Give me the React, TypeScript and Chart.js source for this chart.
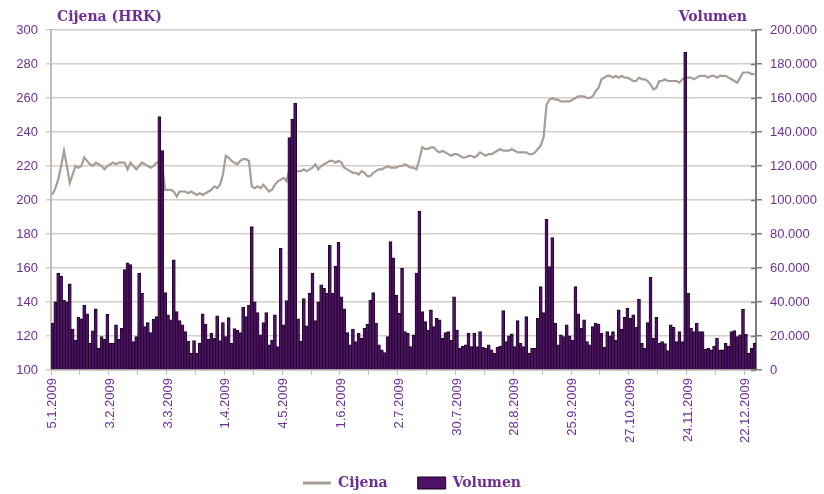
import React, { useEffect, useRef } from "react";
import { Chart, registerables } from "chart.js";

Chart.register(...registerables);

// Tick labels shown every 20 trading days
const tickLabels = [
  "5.1.2009", "3.2.2009", "3.3.2009", "1.4.2009", "4.5.2009", "1.6.2009", "2.7.2009",
  "30.7.2009", "28.8.2009", "25.9.2009", "27.10.2009", "24.11.2009", "22.12.2009",
];

// Price (HRK), one value per trading day
const prices = [
  203, 207, 212, 220, 229, 220, 210, 215, 220, 219, 220, 225, 223, 221, 220, 222, 221, 220, 218, 220,
  221, 222, 221, 222, 222, 222, 218, 222, 220, 218, 220, 222, 221, 220, 219, 220, 222, 222, 221, 206,
  206, 206, 205, 202, 205, 205, 205, 204, 205, 204, 203, 204, 203, 204, 205, 206, 208, 207, 209, 215,
  226, 225, 223, 222, 221, 223, 224, 224, 223, 208, 207, 208, 207, 209, 207, 205, 206, 209, 211, 212,
  213, 211, 218, 217, 217, 217, 217, 218, 217, 218, 219, 221, 218, 220, 221, 222, 223, 223, 222, 223,
  222, 219, 218, 217, 216, 216, 215, 217, 216, 214, 214, 216, 217, 218, 218, 219, 220, 219, 219, 219,
  220, 220, 221, 220, 219, 219, 218, 224, 231, 230, 230, 231, 231, 229, 228, 229, 228, 227, 226, 227,
  227, 226, 225, 225, 226, 226, 225, 226, 228, 227, 226, 227, 227, 228, 229, 230, 229, 229, 229, 230,
  229, 228, 228, 228, 228, 227, 227, 228, 230, 232, 237, 256, 259, 260, 259, 259, 258, 258, 258, 258,
  259, 260, 261, 261, 261, 260, 260, 261, 264, 266, 271, 272, 273, 273, 272, 273, 272, 273, 272, 272,
  271, 270, 270, 272, 271, 271, 270, 268, 265, 266, 270, 270, 271, 270, 270, 270, 270, 269, 271, 272,
  272, 272, 271, 272, 273, 273, 273, 272, 273, 273, 272, 273, 273, 273, 272, 271, 270, 269, 272, 275,
  275, 275, 274, 274,
];

// Volume (shares), one value per trading day
const volumes = [
  27500, 40000, 57000, 55000, 41000, 40000, 50600, 24000, 17600, 31000,
  30000, 38000, 33000, 15700, 23000, 36000, 12700, 19600, 18000, 32700,
  15700, 15700, 26500, 18000, 24500, 59000, 63000, 62000, 16700, 19600,
  57000, 45000, 25500, 27800, 22000, 29800, 31400, 149000, 129000, 45500,
  32400, 29400, 64700, 34300, 29000, 26500, 22500, 17000, 9800, 17300,
  9800, 15700, 33000, 27000, 18000, 21600, 18600, 31800, 17300, 27800,
  19600, 30800, 15700, 24300, 23500, 22000, 36900, 31400, 38200, 84300,
  40000, 33700, 20600, 27800, 33700, 14700, 17600, 32400, 13700, 71600,
  26500, 40800, 136700, 147500, 156900, 30000, 17000, 42000, 26000, 45000,
  57000, 29000, 40000, 50000, 48000, 45000, 73500, 45000, 61000, 75000,
  43000, 36000, 22000, 14700, 24000, 16700, 21600, 18600, 24500, 27000,
  41000, 45500, 27500, 14700, 11800, 10200, 19600, 75500, 66000, 44000,
  33300, 59800, 22500, 21600, 13700, 20600, 57000, 93500, 34300, 28400,
  23500, 35300, 25500, 30400, 29400, 18600, 22000, 22500, 17600, 43000,
  23500, 12700, 14000, 14700, 21600, 13700, 21600, 13700, 22500, 13300,
  12700, 14700, 11800, 9800, 13300, 14000, 34900, 16700, 20000, 21200,
  13700, 29000, 15700, 13700, 31400, 9800, 12700, 12700, 30400, 49000,
  33700, 88600, 60800, 77800, 27500, 14700, 20600, 19600, 26500, 20000,
  17600, 49000, 33000, 24500, 29400, 16700, 14700, 25500, 27500, 27000,
  21600, 13300, 22500, 20000, 22500, 17600, 35300, 24000, 31000, 36300,
  30400, 32400, 25100, 41600, 15700, 12700, 27800, 54500, 18600, 31000,
  15700, 16700, 15500, 11400, 26500, 25000, 16700, 22500, 16700, 187000,
  45000, 24500, 22500, 27500, 22500, 22500, 12200, 12700, 11800, 14100,
  18600, 11800, 11800, 15700, 14100, 22500, 23100, 19600, 20600, 35700,
  21000, 9800, 12700, 15700,
];

const leftTitle = "Cijena (HRK)";
const rightTitle = "Volumen";
const priceLabel = "Cijena";
const volumeLabel = "Volumen";

const LABEL_EVERY = 20;
const categories = prices.map((_, i) =>
  i % LABEL_EVERY === 0 ? tickLabels[i / LABEL_EVERY] || "" : ""
);

const PURPLE = "#6e2e96";
const GRID = "#d5cdc7";
const AXIS_GREY = "#c2bab3";
const RIGHT_AXIS = "#7d7d7d";
const LINE = "#a79d96";
const BAR_FILL = "#4f1166";
const BAR_EDGE = "#16051b";
const TICK_FONT = { family: "'Liberation Sans', sans-serif", size: 13 };
const LEGEND_PAD = 30;

function formatThousands(v: number): string {
  return String(Math.round(v)).replace(/\B(?=(\d{3})+(?!\d))/g, ".");
}

const titlesPlugin = {
  id: "axisTitles",
  afterDraw(chart: any) {
    const { ctx, chartArea } = chart;
    ctx.save();
    ctx.font = "bold 14px 'DejaVu Serif', serif";
    ctx.fillStyle = PURPLE;
    ctx.textBaseline = "middle";
    ctx.textAlign = "left";
    ctx.fillText(leftTitle, chartArea.left + 6, 17);
    ctx.textAlign = "right";
    ctx.fillText(rightTitle, chartArea.right - 9, 17);
    // inner half of the right-axis tick marks (cross ticks)
    const s = chart.scales.y1;
    ctx.strokeStyle = RIGHT_AXIS;
    ctx.lineWidth = 1.5;
    s.ticks.forEach((t: any) => {
      const y = Math.round(s.getPixelForValue(t.value)) + 0.5;
      ctx.beginPath();
      ctx.moveTo(chartArea.right - 5, y);
      ctx.lineTo(chartArea.right, y);
      ctx.stroke();
    });
    ctx.restore();
  },
};

export default function App() {
  const canvasRef = useRef<HTMLCanvasElement | null>(null);

  useEffect(() => {
    if (!canvasRef.current) return;
    const chart = new Chart(canvasRef.current, {
      type: "bar",
      data: {
        labels: categories,
        datasets: [
          {
            type: "line",
            label: priceLabel,
            data: prices,
            yAxisID: "y",
            borderColor: LINE,
            backgroundColor: LINE,
            borderWidth: 2.2,
            pointRadius: 0,
            tension: 0,
            order: 2,
          } as any,
          {
            type: "bar",
            label: volumeLabel,
            data: volumes,
            yAxisID: "y1",
            backgroundColor: BAR_FILL,
            borderColor: BAR_EDGE,
            borderWidth: { top: 1, left: 0.8, right: 0.8, bottom: 0 },
            borderSkipped: false,
            inflateAmount: 0.4,
            barPercentage: 1,
            categoryPercentage: 1,
            order: 1,
          } as any,
        ],
      },
      options: {
        responsive: false,
        animation: false,
        devicePixelRatio: 1,
        layout: { padding: { top: 30, bottom: -6, left: 0, right: 0 } },
        plugins: {
          tooltip: { enabled: false },
          legend: {
            position: "bottom",
            labels: {
              usePointStyle: true,
              pointStyleWidth: 28,
              boxHeight: 12,
              padding: LEGEND_PAD,
              color: PURPLE,
              font: { family: "'DejaVu Serif', serif", size: 14, weight: "bold" },
              sort: (a: any, b: any) => a.datasetIndex - b.datasetIndex,
              generateLabels: (ch: any) => {
                const items = (Chart.defaults.plugins.legend.labels as any).generateLabels(ch);
                return items.map((it: any) =>
                  it.datasetIndex === 0
                    ? { ...it, pointStyle: "line", lineWidth: 3, strokeStyle: LINE, fontColor: PURPLE }
                    : { ...it, pointStyle: "rect", lineWidth: 1, fillStyle: BAR_FILL, strokeStyle: BAR_EDGE, fontColor: PURPLE }
                );
              },
            },
          },
        },
        scales: {
          x: {
            type: "category",
            offset: true,
            grid: {
              offset: true,
              drawOnChartArea: false,
              drawTicks: true,
              tickLength: 5,
              color: (c: any) => (c.index % 10 === 0 ? AXIS_GREY : "rgba(0,0,0,0)"),
            },
            border: { display: true, color: AXIS_GREY, width: 1.5 },
            ticks: {
              autoSkip: false,
              maxRotation: 90,
              minRotation: 90,
              padding: 3,
              color: PURPLE,
              font: TICK_FONT,
            },
            afterFit: (s: any) => {
              s.height = 106 - LEGEND_PAD;
            },
          },
          y: {
            type: "linear",
            position: "left",
            min: 100,
            max: 300,
            ticks: { stepSize: 20, color: PURPLE, font: TICK_FONT, padding: 8 },
            grid: { color: GRID, lineWidth: 1.5, tickLength: 5 },
            border: { display: true, color: AXIS_GREY, width: 2 },
            afterFit: (s: any) => {
              s.width = 51;
            },
          },
          y1: {
            type: "linear",
            position: "right",
            min: 0,
            max: 200000,
            ticks: {
              stepSize: 20000,
              color: PURPLE,
              font: TICK_FONT,
              padding: 8,
              callback: (v: any) => formatThousands(Number(v)),
            },
            grid: { drawOnChartArea: false, color: RIGHT_AXIS, tickLength: 6, lineWidth: 1.5 },
            border: { display: true, color: RIGHT_AXIS, width: 2 },
            afterFit: (s: any) => {
              s.width = 68;
            },
          },
        },
      } as any,
      plugins: [titlesPlugin],
    });
    return () => chart.destroy();
  }, []);

  return (
    <div style={{ position: "absolute", left: 0, top: 0, width: 824, height: 494, background: "#fff" }}>
      <canvas ref={canvasRef} width={824} height={494} />
    </div>
  );
}
